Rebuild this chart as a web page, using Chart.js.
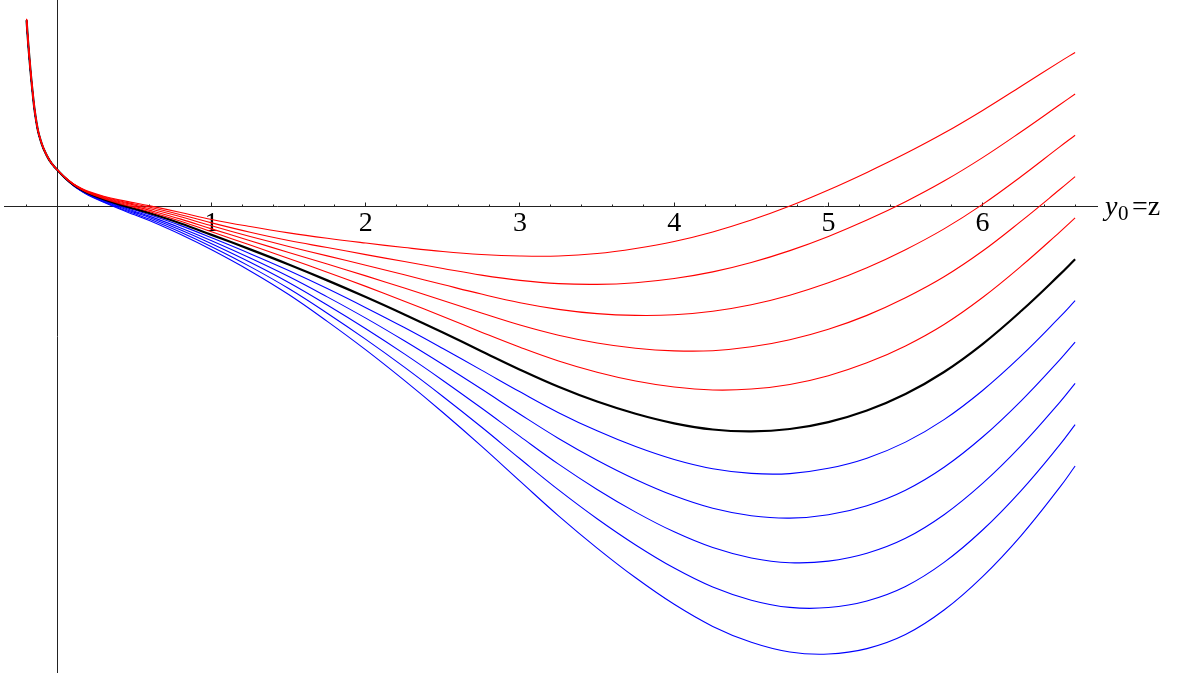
<!DOCTYPE html>
<html>
<head>
<meta charset="utf-8">
<script src="https://cdn.jsdelivr.net/npm/chart.js@4.4.1/dist/chart.umd.min.js"></script>
<style>
  html, body { margin: 0; padding: 0; background: #ffffff; }
  #wrap { width: 1188px; height: 679px; }
</style>
</head>
<body>
<div id="wrap"><canvas id="plot" width="1188" height="679"></canvas></div>
<script>
// Sample abscissae (y0 = z) shared by every curve
const zValues = [-0.2,-0.19,-0.18,-0.17,-0.16,-0.15,-0.14,-0.13,-0.12,-0.1,-0.08,-0.06,-0.04,-0.02,0,
  0.05,0.1,0.15,0.2,0.3,0.4,0.5,0.6,0.8,1,1.25,1.5,1.75,2,2.25,2.5,2.75,3,3.25,3.5,3.75,4,4.25,4.5,4.75,
  5,5.25,5.5,5.75,6,6.25,6.5,6.6];

// Upper family (red), top to bottom
const curveR1 = [1.218,1.074,0.951,0.839,0.738,0.647,0.575,0.516,0.470,0.405,0.355,0.316,0.284,0.258,0.237,
  0.189,0.150,0.121,0.098,0.067,0.043,0.024,0.004,-0.039,-0.084,-0.130,-0.171,-0.206,-0.237,-0.266,-0.292,-0.311,
  -0.321,-0.321,-0.305,-0.272,-0.227,-0.165,-0.088,0.003,0.107,0.221,0.343,0.476,0.623,0.780,0.938,0.999];
const curveR2 = [1.216,1.073,0.949,0.838,0.737,0.646,0.574,0.516,0.469,0.404,0.355,0.316,0.284,0.258,0.237,
  0.188,0.149,0.119,0.096,0.063,0.037,0.016,-0.005,-0.053,-0.106,-0.167,-0.221,-0.266,-0.312,-0.357,-0.402,-0.445,
  -0.479,-0.500,-0.505,-0.494,-0.467,-0.424,-0.363,-0.286,-0.194,-0.088,0.031,0.165,0.317,0.485,0.660,0.730];
const curveR3 = [1.214,1.071,0.948,0.837,0.736,0.645,0.573,0.515,0.469,0.404,0.355,0.315,0.284,0.258,0.237,
  0.188,0.148,0.117,0.093,0.059,0.032,0.009,-0.015,-0.067,-0.125,-0.194,-0.259,-0.320,-0.381,-0.443,-0.506,-0.568,
  -0.624,-0.667,-0.695,-0.706,-0.702,-0.679,-0.637,-0.575,-0.495,-0.397,-0.280,-0.145,0.014,0.195,0.387,0.462];
const curveR4 = [1.213,1.070,0.946,0.836,0.735,0.644,0.572,0.514,0.468,0.403,0.354,0.315,0.284,0.258,0.237,
  0.187,0.146,0.115,0.091,0.055,0.026,0.001,-0.025,-0.082,-0.145,-0.222,-0.298,-0.373,-0.450,-0.529,-0.610,-0.691,
  -0.769,-0.835,-0.885,-0.919,-0.936,-0.935,-0.910,-0.864,-0.796,-0.706,-0.592,-0.456,-0.289,-0.095,0.110,0.194];
const curveR5 = [1.211,1.068,0.945,0.835,0.734,0.643,0.572,0.513,0.468,0.403,0.354,0.315,0.283,0.258,0.237,
  0.187,0.145,0.113,0.088,0.051,0.020,-0.007,-0.034,-0.096,-0.164,-0.250,-0.337,-0.426,-0.518,-0.614,-0.713,-0.815,
  -0.913,-1.002,-1.075,-1.132,-1.171,-1.190,-1.184,-1.154,-1.097,-1.014,-0.904,-0.765,-0.590,-0.387,-0.166,-0.074];

// Middle curve (black, heavier)
const curveMid = [1.209,1.067,0.944,0.833,0.733,0.642,0.571,0.512,0.467,0.402,0.353,0.314,0.283,0.258,0.237,
  0.186,0.144,0.112,0.086,0.047,0.014,-0.015,-0.044,-0.110,-0.184,-0.278,-0.376,-0.479,-0.587,-0.700,-0.817,-0.938,
  -1.058,-1.169,-1.265,-1.344,-1.406,-1.446,-1.458,-1.443,-1.398,-1.323,-1.216,-1.073,-0.892,-0.678,-0.442,-0.342];

// Lower family (blue), top to bottom
const curveB1 = [1.208,1.065,0.942,0.832,0.732,0.641,0.570,0.512,0.466,0.402,0.353,0.314,0.283,0.257,0.237,
  0.186,0.143,0.110,0.083,0.043,0.009,-0.023,-0.054,-0.124,-0.203,-0.306,-0.415,-0.532,-0.656,-0.785,-0.921,-1.061,
  -1.202,-1.337,-1.455,-1.557,-1.641,-1.701,-1.731,-1.732,-1.698,-1.632,-1.528,-1.382,-1.193,-0.969,-0.718,-0.611];
const curveB2 = [1.206,1.064,0.941,0.831,0.731,0.640,0.569,0.511,0.466,0.401,0.353,0.314,0.283,0.257,0.237,
  0.185,0.142,0.108,0.081,0.039,0.003,-0.031,-0.064,-0.139,-0.222,-0.334,-0.454,-0.586,-0.724,-0.871,-1.025,-1.184,
  -1.347,-1.504,-1.645,-1.770,-1.876,-1.957,-2.005,-2.021,-1.999,-1.940,-1.840,-1.691,-1.495,-1.260,-0.994,-0.879];
const curveB3 = [1.205,1.062,0.939,0.830,0.730,0.639,0.568,0.510,0.465,0.401,0.352,0.314,0.283,0.257,0.237,
  0.185,0.140,0.106,0.078,0.035,-0.003,-0.038,-0.073,-0.153,-0.242,-0.362,-0.493,-0.639,-0.793,-0.956,-1.128,-1.307,
  -1.491,-1.671,-1.835,-1.982,-2.110,-2.212,-2.279,-2.310,-2.300,-2.249,-2.152,-1.999,-1.796,-1.551,-1.270,-1.147];
const curveB4 = [1.203,1.061,0.938,0.829,0.728,0.638,0.568,0.509,0.465,0.400,0.352,0.313,0.283,0.257,0.237,
  0.184,0.139,0.104,0.076,0.031,-0.009,-0.046,-0.083,-0.167,-0.261,-0.390,-0.532,-0.692,-0.862,-1.042,-1.232,-1.430,
  -1.636,-1.838,-2.025,-2.195,-2.345,-2.468,-2.553,-2.600,-2.601,-2.558,-2.464,-2.308,-2.098,-1.842,-1.546,-1.415];
const curveB5 = [1.202,1.059,0.937,0.827,0.727,0.637,0.567,0.508,0.464,0.400,0.351,0.313,0.283,0.257,0.237,
  0.184,0.138,0.103,0.073,0.027,-0.015,-0.054,-0.093,-0.182,-0.281,-0.418,-0.571,-0.745,-0.930,-1.128,-1.336,-1.554,
  -1.781,-2.006,-2.215,-2.408,-2.580,-2.723,-2.826,-2.889,-2.902,-2.867,-2.776,-2.617,-2.400,-2.134,-1.822,-1.683];

// Axis tick labels and axis name
const tickLabels = ['1', '2', '3', '4', '5', '6'];
const axisName = { symbol: 'y', sub: '0', rest: '=z' };

// Visible window of the two axes
const zMin = -0.3463, zMax = 6.7419;
const vMin = -3.0188, vMax = 1.3392;

const seriesSpec = [
  { values: curveR1, color: '#ff0000', width: 1.1 },
  { values: curveR2, color: '#ff0000', width: 1.1 },
  { values: curveR3, color: '#ff0000', width: 1.1 },
  { values: curveR4, color: '#ff0000', width: 1.1 },
  { values: curveR5, color: '#ff0000', width: 1.1 },
  { values: curveMid, color: '#000000', width: 2.2 },
  { values: curveB1, color: '#0000ff', width: 1.1 },
  { values: curveB2, color: '#0000ff', width: 1.1 },
  { values: curveB3, color: '#0000ff', width: 1.1 },
  { values: curveB4, color: '#0000ff', width: 1.1 },
  { values: curveB5, color: '#0000ff', width: 1.1 }
];

const datasets = seriesSpec.map(s => ({
  data: zValues.map((z, i) => ({ x: z, y: s.values[i] })),
  borderColor: s.color,
  borderWidth: s.width,
  pointRadius: 0,
  fill: false,
  tension: 0.4
}));

// Writes "y0=z" just past the right end of the horizontal axis
const axisNamePlugin = {
  id: 'axisName',
  afterDraw(chart) {
    const ctx = chart.ctx;
    const xs = chart.scales.x;
    const ys = chart.scales.y;
    const left = xs.right + 8;
    const base = ys.getPixelForValue(0) + 8.5;
    ctx.save();
    ctx.fillStyle = '#000';
    ctx.textAlign = 'left';
    ctx.textBaseline = 'alphabetic';
    ctx.font = 'italic 28px "Liberation Serif"';
    ctx.fillText(axisName.symbol, left, base);
    ctx.font = '21px "Liberation Serif"';
    ctx.fillText(axisName.sub, left + 13, base + 5);
    ctx.font = '28px "Liberation Serif"';
    ctx.fillText(axisName.rest, left + 27, base);
    ctx.restore();
  }
};

new Chart(document.getElementById('plot'), {
  type: 'line',
  data: { datasets },
  options: {
    responsive: false,
    animation: false,
    events: [],
    layout: { padding: { left: 4, right: 91, top: 0, bottom: 7 } },
    plugins: { legend: { display: false }, tooltip: { enabled: false } },
    scales: {
      x: {
        type: 'linear',
        min: zMin,
        max: zMax,
        position: { y: 0 },
        border: { display: true, color: '#222', width: 1 },
        grid: { display: true, drawOnChartArea: false, drawTicks: true, tickLength: -4.5, tickColor: '#222', tickWidth: 1 },
        ticks: {
          stepSize: 1,
          autoSkip: false,
          includeBounds: false,
          maxRotation: 0,
          padding: 5,
          color: '#000',
          font: { family: 'Liberation Serif', size: 28 },
          callback: (v) => {
            const i = Math.round(v);
            return (Math.abs(v - i) < 1e-6 && i >= 1 && i <= tickLabels.length) ? tickLabels[i - 1] : '';
          }
        }
      },
      xMinor: {
        type: 'linear',
        axis: 'x',
        min: zMin,
        max: zMax,
        position: { y: 0 },
        border: { display: false },
        grid: { display: true, drawOnChartArea: false, drawTicks: true, tickLength: -2.5, tickColor: '#222', tickWidth: 1 },
        ticks: { display: false, stepSize: 0.2, autoSkip: false, includeBounds: false, maxTicksLimit: 100 }
      },
      y: {
        type: 'linear',
        min: vMin,
        max: vMax,
        position: { x: 0 },
        border: { display: true, color: '#222', width: 1 },
        grid: { display: false },
        ticks: { display: false }
      }
    }
  },
  plugins: [axisNamePlugin]
});
</script>
</body>
</html>
